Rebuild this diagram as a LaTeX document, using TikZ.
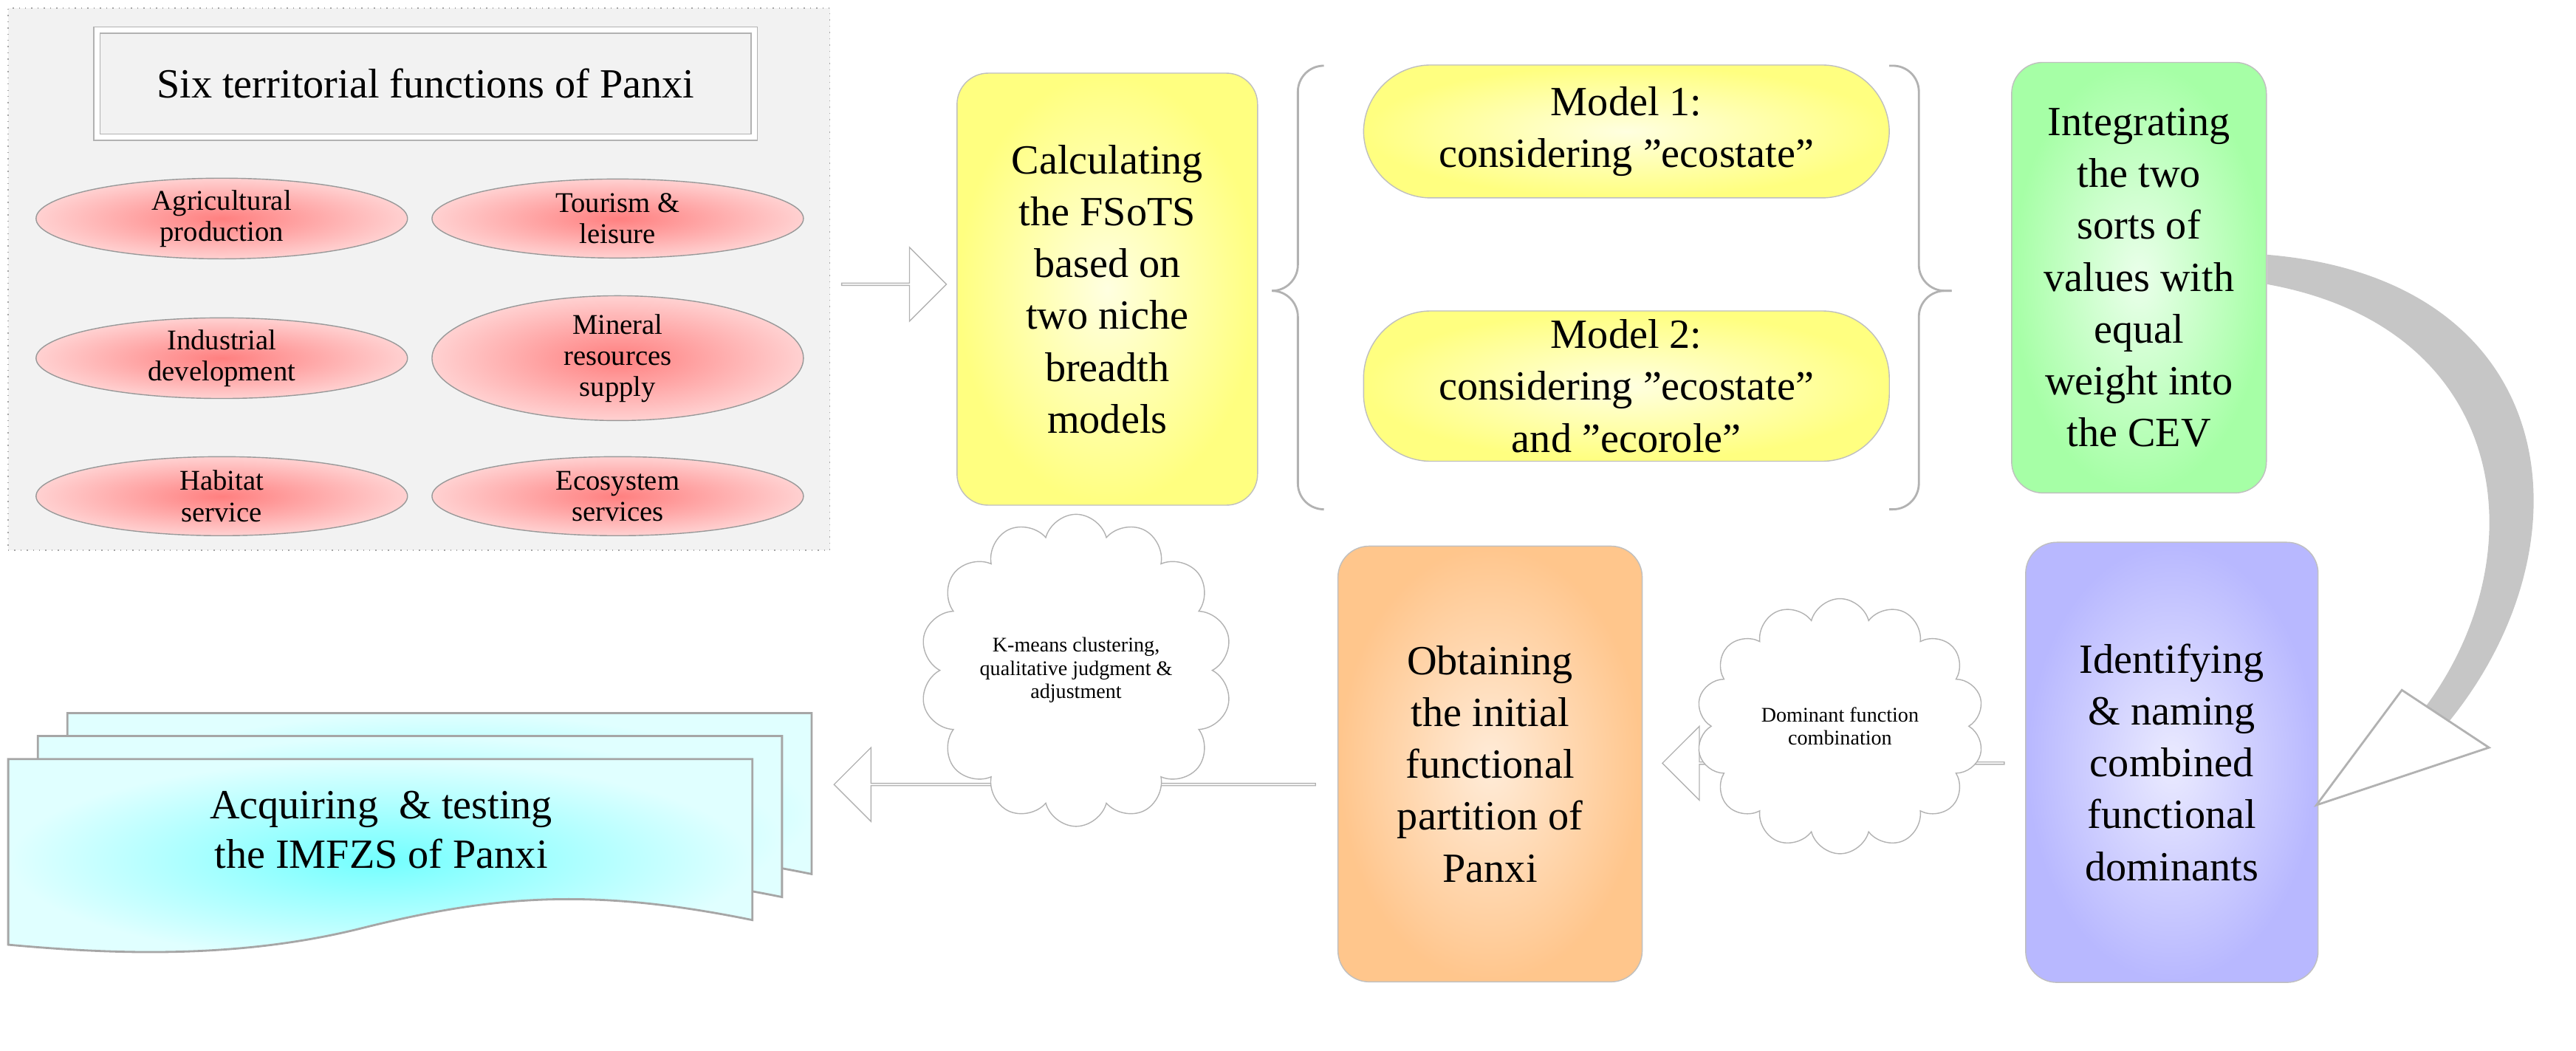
\documentclass[tikz,border=0pt]{standalone}
\usepackage{fontspec}
\setmainfont{Liberation Serif}
\usetikzlibrary{positioning,shapes.geometric,shapes.symbols,shapes.arrows,calc}

\begin{document}
\begin{tikzpicture}[
x=0.02225cm, y=-0.02225cm,
func/.style={
  ellipse,
  draw=gray!80,
  inner color=red!50,
  outer color=red!18,
  minimum width=5.03cm,
  minimum height=1.07cm,
  inner sep=0pt,
  align=center,
  font=\fontsize{11}{12}\selectfont
  },
stage/.style={
  draw=gray!50,
  rounded corners=12pt,
  minimum width=4cm,
  minimum height=5.85cm,
  align=center,
  font=\fontsize{16}{20}\selectfont
  },
model/.style={
  draw=gray!50,
  rounded corners=26pt,
  inner color=yellow!12,
  outer color=yellow!50,
  minimum width=7.12cm,
  minimum height=1.8cm,
  align=center,
  font=\fontsize{16}{20}\selectfont
  },
sarrow/.style={
  single arrow,
  draw=gray!60,
  fill=white,
  minimum width=1cm,
  single arrow head extend=0.22cm,
  inner sep=0pt
  },
note/.style={
  cloud,
  cloud puffs=14,
  draw=gray!60,
  fill=white,
  align=center,
  inner sep=0pt,
  font=\fontsize{8}{9}\selectfont
  },
brace/.style={
  draw=gray!60,
  line width=0.8pt,
  rounded corners=10pt
  }
]
\useasboundingbox (0,0) rectangle (1568,639.6);

% panel of functions
\node[draw=gray!70, dotted, fill=gray!10, minimum width=11.13cm, minimum height=7.34cm] (panel) at (255,170) {};
\node[draw=gray!60, double=white, double distance=2pt, fill=gray!10, minimum width=8.9cm, minimum height=1.45cm,
  font=\fontsize{16}{18}\selectfont] (title) at (259,51) {Six territorial functions of Panxi};
\node[func] (agri) at (135,133) {Agricultural\\production};
\node[func] (tour) at (376,133) {Tourism \&\\leisure};
\node[func] (indu) at (135,218) {Industrial\\development};
\node[func] (mine) at (376,218) {Mineral\\resources\\supply};
\node[func] (habi) at (135,302) {Habitat\\service};
\node[func] (ecos) at (376,302) {Ecosystem\\services};

% upper row
\node[stage, minimum width=4.07cm, inner color=yellow!12, outer color=yellow!50] (calc) at (674,176)
  {Calculating\\the FSoTS\\based on\\two niche\\breadth\\models};
\node[model] (mod1) at (990,80) {Model 1:\\considering "ecostate"};
\node[model] (mod2) at (990,235) {Model 2:\\considering "ecostate"\\and "ecorole"};
\node[stage, minimum width=3.45cm, minimum height=5.83cm, inner color=green!8, outer color=green!35] (inte) at (1302,169)
  {Integrating\\the two\\sorts of\\values with\\equal\\weight into\\the CEV};

% lower row
\node[stage, minimum width=3.96cm, minimum height=5.96cm, inner color=blue!8, outer color=blue!28] (iden) at (1322,464)
  {Identifying\\\& naming\\combined\\functional\\dominants};
\node[stage, minimum width=4.12cm, minimum height=5.9cm, inner color=orange!15, outer color=orange!45] (obta) at (907,465)
  {Obtaining\\the initial\\functional\\partition of\\Panxi};

% stacked documents
\foreach \dx/\dy in {36/-28,18/-14,0/0}
  \draw[draw=gray!70, line width=0.8pt, inner color=cyan!55, outer color=cyan!12]
    ($(5,462)+(\dx,\dy)$) -- ($(458,462)+(\dx,\dy)$) -- ($(458,560)+(\dx,\dy)$)
    .. controls ($(360,540)+(\dx,\dy)$) and ($(300,545)+(\dx,\dy)$) .. ($(220,565)+(\dx,\dy)$)
    .. controls ($(140,585)+(\dx,\dy)$) and ($(60,580)+(\dx,\dy)$) .. ($(5,575)+(\dx,\dy)$) -- cycle;
\node[font=\fontsize{16}{19}\selectfont, align=center] (docs) at (232,505) {Acquiring \ \& testing\\the IMFZS of Panxi};
\coordinate (docsend) at (495,490);

% braces
\draw[brace] (805,40) -- (790,40) -- (790,177) -- (775,177);
\draw[brace] (775,177) -- (790,177) -- (790,310) -- (805,310);
\draw[brace] (1150,40) -- (1168,40) -- (1168,177) -- (1188,177);
\draw[brace] (1188,177) -- (1168,177) -- (1168,310) -- (1150,310);

% hollow arrows
\path (panel.east) -- node[sarrow, minimum height=1.42cm] (arr1) {} (calc.west);
\path (iden.west) -- node[sarrow, shape border rotate=180, minimum height=4.63cm] (arr2) {} (obta.east);
\path (obta.west) -- node[sarrow, shape border rotate=180, minimum height=6.52cm] (arr3) {} (docsend);

% clouds
\node[note, minimum width=4cm, minimum height=1.3cm] (km) at (655,408)
  {K-means clustering,\\qualitative judgment \&\\adjustment};
\node[note, minimum width=3.9cm, minimum height=1.2cm] (dom) at (1120,442) {Dominant function\\combination};

% curved arrow from the CEV box down to the naming box
\fill[gray!45] (inte.east) ++(0,-14)
  .. controls (1560,170) and (1580,330) .. (1490,440)
  -- (1475,432)
  .. controls (1545,340) and (1530,200) .. ($(inte.east)+(0,4)$) -- cycle;
\draw[gray!60, fill=white, line width=0.8pt] (1462,420) -- (1515,455) -- (1410,490) -- cycle;
\end{tikzpicture}
\end{document}
